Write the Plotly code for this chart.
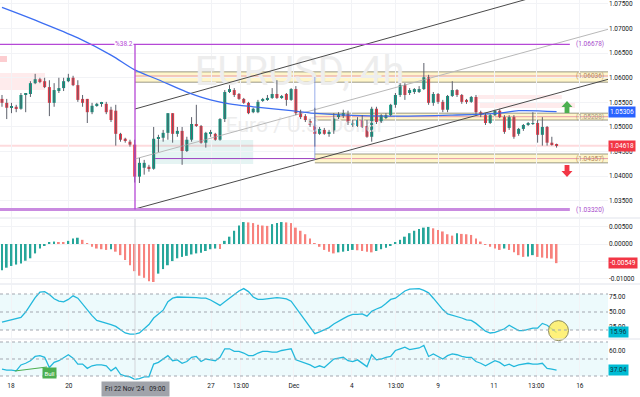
import plotly.graph_objects as go

# ---------------- data ----------------
opens = [1.0557,1.0549,1.0539,1.0541,1.0537,1.0565,1.0567,1.0589,1.0597,1.0593,
         1.0581,1.0549,1.0575,1.0579,1.0593,1.0600,1.0585,1.0557,1.0557,1.0530,
         1.0543,1.0547,1.0547,1.0535,1.0533,1.0486,1.0476,1.0470,1.0464,1.0399,
         1.0417,1.0419,1.0415,1.0476,1.0478,1.0488,1.0528,1.0486,1.0492,1.0451,
         1.0474,1.0506,1.0502,1.0468,1.0486,1.0486,1.0474,1.0516,1.0571,1.0575,
         1.0567,1.0557,1.0549,1.0530,1.0530,1.0553,1.0555,1.0559,1.0567,1.0559,
         1.0567,1.0555,1.0577,1.0530,1.0522,1.0512,1.0504,1.0486,1.0494,1.0486,
         1.0490,1.0520,1.0524,1.0526,1.0504,1.0502,1.0514,1.0502,1.0480,1.0537,
         1.0510,1.0520,1.0524,1.0545,1.0565,1.0585,1.0569,1.0571,1.0573,1.0577,
         1.0601,1.0549,1.0567,1.0551,1.0535,1.0563,1.0575,1.0565,1.0555,1.0551,
         1.0561,1.0530,1.0524,1.0508,1.0524,1.0533,1.0520,1.0498,1.0520,1.0486,
         1.0496,1.0504,1.0506,1.0508,1.0484,1.0500,1.0468,1.0464]
highs = [1.0565,1.0557,1.0549,1.0545,1.0569,1.0569,1.0593,1.0608,1.0600,1.0600,
         1.0595,1.0589,1.0600,1.0600,1.0608,1.0604,1.0595,1.0565,1.0557,1.0549,
         1.0549,1.0551,1.0551,1.0541,1.0545,1.0488,1.0478,1.0474,1.0474,1.0437,
         1.0433,1.0423,1.0500,1.0484,1.0494,1.0528,1.0528,1.0500,1.0500,1.0480,
         1.0520,1.0545,1.0504,1.0490,1.0494,1.0488,1.0518,1.0575,1.0585,1.0579,
         1.0569,1.0559,1.0551,1.0539,1.0555,1.0559,1.0565,1.0579,1.0595,1.0565,
         1.0569,1.0579,1.0583,1.0535,1.0526,1.0516,1.0539,1.0500,1.0498,1.0494,
         1.0528,1.0530,1.0535,1.0533,1.0514,1.0520,1.0524,1.0514,1.0541,1.0541,
         1.0526,1.0528,1.0547,1.0569,1.0589,1.0589,1.0579,1.0579,1.0583,1.0630,
         1.0606,1.0571,1.0569,1.0555,1.0565,1.0593,1.0577,1.0567,1.0557,1.0563,
         1.0565,1.0533,1.0528,1.0526,1.0535,1.0537,1.0524,1.0524,1.0524,1.0498,
         1.0506,1.0510,1.0530,1.0514,1.0520,1.0502,1.0480,1.0466]
lows = [1.0541,1.0516,1.0528,1.0530,1.0535,1.0530,1.0561,1.0587,1.0589,1.0579,
        1.0522,1.0541,1.0569,1.0573,1.0591,1.0583,1.0551,1.0541,1.0508,1.0526,
        1.0541,1.0541,1.0526,1.0510,1.0462,1.0470,1.0468,1.0460,1.0387,1.0386,
        1.0403,1.0409,1.0413,1.0449,1.0470,1.0474,1.0468,1.0480,1.0423,1.0449,
        1.0470,1.0500,1.0466,1.0458,1.0480,1.0472,1.0472,1.0510,1.0569,1.0561,
        1.0555,1.0547,1.0526,1.0528,1.0528,1.0551,1.0553,1.0557,1.0557,1.0557,
        1.0543,1.0553,1.0524,1.0516,1.0510,1.0500,1.0460,1.0484,1.0484,1.0480,
        1.0486,1.0516,1.0518,1.0504,1.0500,1.0500,1.0498,1.0478,1.0470,1.0506,
        1.0508,1.0516,1.0522,1.0539,1.0561,1.0555,1.0565,1.0567,1.0569,1.0575,
        1.0545,1.0543,1.0547,1.0530,1.0530,1.0561,1.0561,1.0547,1.0547,1.0549,
        1.0526,1.0520,1.0504,1.0506,1.0522,1.0518,1.0486,1.0494,1.0476,1.0482,
        1.0492,1.0502,1.0504,1.0468,1.0462,1.0462,1.0462,1.0458]
closes = [1.0549,1.0539,1.0541,1.0537,1.0565,1.0567,1.0589,1.0597,1.0593,1.0581,
          1.0549,1.0575,1.0579,1.0593,1.0600,1.0585,1.0555,1.0549,1.0530,1.0543,
          1.0547,1.0549,1.0530,1.0514,1.0486,1.0474,1.0472,1.0464,1.0399,1.0427,
          1.0427,1.0415,1.0476,1.0478,1.0488,1.0528,1.0486,1.0492,1.0451,1.0474,
          1.0506,1.0502,1.0468,1.0488,1.0488,1.0474,1.0516,1.0571,1.0577,1.0565,
          1.0557,1.0549,1.0528,1.0537,1.0551,1.0555,1.0559,1.0567,1.0559,1.0563,
          1.0555,1.0577,1.0528,1.0520,1.0514,1.0504,1.0486,1.0496,1.0486,1.0490,
          1.0518,1.0526,1.0528,1.0508,1.0508,1.0514,1.0500,1.0480,1.0537,1.0510,
          1.0524,1.0524,1.0545,1.0565,1.0585,1.0565,1.0575,1.0577,1.0577,1.0601,
          1.0549,1.0567,1.0551,1.0535,1.0563,1.0575,1.0565,1.0551,1.0551,1.0561,
          1.0530,1.0524,1.0508,1.0524,1.0533,1.0520,1.0490,1.0520,1.0480,1.0496,
          1.0504,1.0508,1.0508,1.0484,1.0500,1.0468,1.0464,1.0462]

macd_hist = [-0.0075,-0.0068,-0.0063,-0.0059,-0.0056,-0.0048,-0.0041,-0.0027,-0.0013,-0.0005,
             0.0004,0.0007,0.0005,0.0004,0.0009,0.0016,0.0018,0.0012,0.0002,-0.0008,
             -0.0013,-0.0015,-0.0017,-0.0015,-0.0022,-0.0032,-0.0046,-0.0061,-0.0078,-0.0091,
             -0.0097,-0.0107,-0.0109,-0.0085,-0.0072,-0.0061,-0.0049,-0.0041,-0.0037,-0.0034,
             -0.0030,-0.0027,-0.0025,-0.0020,-0.0015,-0.0013,-0.0014,0.0009,0.0021,0.0038,
             0.0053,0.0063,0.0062,0.0060,0.0055,0.0053,0.0052,0.0057,0.0060,0.0063,
             0.0062,0.0060,0.0047,0.0038,0.0028,0.0016,0.0002,-0.0008,-0.0017,-0.0022,
             -0.0027,-0.0024,-0.0022,-0.0020,-0.0017,-0.0018,-0.0020,-0.0022,-0.0024,-0.0020,
             -0.0015,-0.0011,-0.0005,0.0005,0.0012,0.0021,0.0031,0.0038,0.0043,0.0047,
             0.0049,0.0045,0.0040,0.0036,0.0028,0.0024,0.0031,0.0029,0.0028,0.0026,
             0.0016,0.0007,-0.0001,-0.0008,-0.0013,-0.0017,-0.0013,-0.0017,-0.0024,-0.0032,
             -0.0037,-0.0036,-0.0032,-0.0037,-0.0039,-0.0041,-0.0042,-0.0055]

stoch_rsi = [33,35,38,40,41,50,63,74,83,84,
             79,72,68,67,71,77,73,63,53,44,
             36,34,31,29,26,20,15,13,13,15,
             22,29,40,47,53,67,73,75,75,75,
             75,74,73,73,70,65,61,67,73,80,
             85,89,84,75,71,71,72,74,74,73,
             72,68,57,46,36,25,14,17,20,24,
             30,35,39,43,46,46,47,43,51,55,
             58,64,71,73,79,85,88,89,89,86,
             82,73,63,54,47,45,42,40,37,36,
             31,24,18,15,16,19,22,28,24,19,
             19,21,23,23,31,28,22,16]

rsi = [38,37,37,36,43,45,48,53,54,52,
       40,46,48,51,55,51,44,44,39,42,
       43,43,42,36,40,32,30,29,26,27,
       29,29,44,46,50,54,48,49,45,47,
       52,53,47,50,49,48,52,62,62,59,
       59,57,54,54,57,59,59,58,58,60,
       61,62,49,47,45,43,40,42,40,45,
       50,51,52,48,47,49,45,41,55,49,
       50,52,53,60,62,64,61,62,63,66,
       53,56,53,50,54,56,55,53,52,52,
       47,45,42,45,48,46,42,44,41,43,
       44,45,44,44,45,39,38,37]

ma_x = [0, 7, 16, 23, 28, 33, 39, 44, 48, 53, 61, 67, 82, 95, 105, 109, 117]
ma_y = [1.0743, 1.0717, 1.0681, 1.0646, 1.0616, 1.0596, 1.0571, 1.0555, 1.0547,
        1.0541, 1.0533, 1.0527, 1.0522, 1.0524, 1.0528, 1.0533, 1.0531]

x_tick_pos = [1.9, 14.1, 44.1, 50.4, 61.6, 73.8, 83.1, 92.0, 103.8, 112.7, 121.9]
x_tick_text = ["18", "20", "27", "13:00", "Dec", "4", "13:00", "9", "11", "13:00", "16"]
crosshair_x = 28.06
crosshair_text = "Fri 22 Nov '24   09:00"

price_ticks = [1.035, 1.040, 1.045, 1.050, 1.055, 1.060, 1.065, 1.070, 1.075]
macd_ticks = [0.005, 0.0, -0.005, -0.01]
stoch_ticks = [25, 50, 75]
rsi_ticks = [40, 60]

fib_high, fib_low, fib_label = 1.06678, 1.03320, "%38.2"
fib_x = 28.06
# zones: start index, low, high, mid level, label
zones = [(28.06, 1.0591, 1.0612, 1.06036, "(1.06036)"),
         (66.0, 1.0514, 1.0528, 1.05208, "(1.05208)"),
         (66.0, 1.0427, 1.0445, 1.04357, "(1.04357)")]
channel_x = [28.06, 127.85]
channel_lower = [1.03332, 1.05968]
channel_mid = [1.04349, 1.06985]
channel_upper = [1.05365, 1.08060]

last_price = 1.04618
ma_last = 1.05306
macd_last = -0.00549
stoch_last = 15.96
rsi_last = 37.04

# ---------------- layout geometry ----------------
W, H = 640, 397
ML, MR, MT, MB = 0, 32, 0, 17
PW, PH = W - ML - MR, H - MT - MB
XR = [-0.42, 127.85]

def dom(top, bot):
    return [(PH - bot) / PH, (PH - top) / PH]

def px_x(px):
    return px / PW

def px_y(py):
    return (PH - py) / PH

FONT = "Roboto"
GREEN, RED = "#089981", "#f23645"
n = len(closes)
idx = list(range(n))

fig = go.Figure()

# watermark (behind candles)
fig.add_trace(go.Scatter(x=[62.8, 63.9], y=[1.0606, 1.0500], mode="text",
                         text=["EURUSD, 4h", "Euro / U.S. Dollar"],
                         textfont=dict(size=[40, 21], color="#ededed", family=FONT),
                         hoverinfo="skip", showlegend=False, xaxis="x", yaxis="y"))

# channel lines
fig.add_trace(go.Scatter(x=channel_x, y=channel_lower, mode="lines",
                         line=dict(color="#4a4a4a", width=1), hoverinfo="skip", showlegend=False))
fig.add_trace(go.Scatter(x=channel_x, y=channel_upper, mode="lines",
                         line=dict(color="#4a4a4a", width=1), hoverinfo="skip", showlegend=False))
fig.add_trace(go.Scatter(x=channel_x, y=channel_mid, mode="lines",
                         line=dict(color="#b8b8b8", width=1), hoverinfo="skip", showlegend=False))

# moving average
fig.add_trace(go.Scatter(x=ma_x, y=ma_y, mode="lines", line=dict(color="#3d6ef2", width=1.3, shape="spline"),
                         hoverinfo="skip", showlegend=False))

# candle wicks
wx, wy = [], []
for i, (h, l) in enumerate(zip(highs, lows)):
    wx += [i, i, None]
    wy += [h, l, None]
fig.add_trace(go.Scatter(x=wx, y=wy, mode="lines", line=dict(color="#5d606b", width=1),
                         hoverinfo="skip", showlegend=False))
# candle bodies
body_base = [min(o, c) for o, c in zip(opens, closes)]
body_h = [max(abs(c - o), 0.00006) for o, c in zip(opens, closes)]
body_col = [GREEN if c >= o else RED for o, c in zip(opens, closes)]
fig.add_trace(go.Bar(x=idx, y=body_h, base=body_base, width=0.64,
                     marker=dict(color=body_col, line=dict(width=0)),
                     hoverinfo="skip", showlegend=False, xaxis="x", yaxis="y"))

# MACD histogram
macd_col = ["#26a69a" if (i == 0 or v >= macd_hist[i - 1]) else "#f7827d" for i, v in enumerate(macd_hist)]
fig.add_trace(go.Bar(x=idx, y=macd_hist, width=0.38, marker=dict(color=macd_col, line=dict(width=0)),
                     hoverinfo="skip", showlegend=False, xaxis="x2", yaxis="y2"))

# Stoch RSI line
fig.add_trace(go.Scatter(x=idx, y=stoch_rsi, mode="lines", line=dict(color="#22b8dc", width=1.3),
                         hoverinfo="skip", showlegend=False, xaxis="x3", yaxis="y3"))
fig.add_trace(go.Scatter(x=[n - 0.6], y=[19], mode="markers",
                         marker=dict(size=20, color="rgba(255,238,90,0.8)", line=dict(color="#8c8a5c", width=1)),
                         cliponaxis=False, hoverinfo="skip", showlegend=False, xaxis="x3", yaxis="y3"))

# RSI line
fig.add_trace(go.Scatter(x=idx, y=rsi, mode="lines", line=dict(color="#22b8dc", width=1.3),
                         hoverinfo="skip", showlegend=False, xaxis="x4", yaxis="y4"))
fig.add_trace(go.Scatter(x=[2.7, 9.5], y=[35.9, 40.6], mode="lines", line=dict(color="#4caf50", width=1.2),
                         hoverinfo="skip", showlegend=False, xaxis="x4", yaxis="y4"))

# ---------------- shapes ----------------
shapes = []

def rect(x0, x1, y0, y1, fill, xref="x", yref="y", layer="below"):
    shapes.append(dict(type="rect", xref=xref, yref=yref, x0=x0, x1=x1, y0=y0, y1=y1,
                       fillcolor=fill, line=dict(width=0), layer=layer))

def line(x0, x1, y0, y1, color, width=1, xref="x", yref="y", dash="solid", layer="above"):
    shapes.append(dict(type="line", xref=xref, yref=yref, x0=x0, x1=x1, y0=y0, y1=y1,
                       line=dict(color=color, width=width, dash=dash), layer=layer))

# pink supply areas
rect(XR[0], 9.07, 1.05751, 1.06097, "rgba(242,54,69,0.10)")
rect(XR[0], 1.05, 1.06320, 1.06443, "rgba(242,54,69,0.25)")
rect(100.4, 118.1, 1.05568, 1.05650, "rgba(242,54,69,0.10)")
rect(100.8, 120.9, 1.05385, 1.05487, "rgba(242,54,69,0.10)")
# light green demand box
rect(31.9, 53.0, 1.04247, 1.04735, "rgba(38,166,154,0.12)")
# current price line
line(XR[0], XR[1], last_price, last_price, "rgba(242,54,69,0.18)", width=2, layer="below")

# yellow zones
for x0, lo, hi, mid, lab in zones:
    rect(x0, XR[1], lo, hi, "rgba(255,236,140,0.45)")
    line(x0, XR[1], lo, lo, "rgba(90,90,70,0.6)", 1, layer="below")
    line(x0, XR[1], hi, hi, "rgba(90,90,70,0.6)", 1, layer="below")
    line(x0, XR[1], mid, mid, "rgba(214,80,140,0.55)", 1, layer="below")

# fib lines
line(XR[0], 119.8, fib_high, fib_high, "#b548d6", 1.3)
line(XR[0], 119.8, fib_low, fib_low, "#c98be0", 3)
line(fib_x, fib_x, fib_low, fib_high, "#b548d6", 1.3)
line(32.3, 66.0, 1.04357, 1.04357, "#9c3fc0", 1)
line(66.0, 66.0, 1.04328, 1.06016, "rgba(110,140,225,0.7)", 1)

# crosshair line through lower panes
line(crosshair_x, crosshair_x, 0, px_y(219), "#d3d5da", 1, xref="x", yref="paper")

# pane separators
for py in (218, 284, 339):
    line(0, 1.0526, px_y(py), px_y(py), "#e0e3eb", 1, xref="paper", yref="paper")

# stoch / rsi bands and dashed levels
rect(0, 1, 20, 80, "rgba(0,188,212,0.07)", xref="paper", yref="y3")
for v in (80, 50, 20):
    line(0, 1, v, v, "#a3a7b0", 1, xref="paper", yref="y3", dash="3px,3px")
rect(0, 1, 30, 70, "rgba(0,188,212,0.07)", xref="paper", yref="y4")
for v in (70, 50, 30):
    line(0, 1, v, v, "#a3a7b0", 1, xref="paper", yref="y4", dash="3px,3px")

# arrows (paper coordinates)
def arrow_path(cx, top, bot, w, up=True):
    hw, sw = w / 2, w * 0.22
    hh = (bot - top) * 0.5
    if up:
        pts = [(cx, top), (cx + hw, top + hh), (cx + sw, top + hh), (cx + sw, bot),
               (cx - sw, bot), (cx - sw, top + hh), (cx - hw, top + hh)]
    else:
        pts = [(cx, bot), (cx + hw, bot - hh), (cx + sw, bot - hh), (cx + sw, top),
               (cx - sw, top), (cx - sw, bot - hh), (cx - hw, bot - hh)]
    return "M " + " L ".join(f"{px_x(x):.5f},{px_y(y):.5f}" for x, y in pts) + " Z"

shapes.append(dict(type="path", xref="paper", yref="paper", path=arrow_path(567, 101, 113, 11, True),
                   fillcolor="#4caf50", line=dict(width=0)))
shapes.append(dict(type="path", xref="paper", yref="paper", path=arrow_path(567, 165, 177, 11, False),
                   fillcolor="#f23645", line=dict(width=0)))

# ---------------- annotations ----------------
ann = []

def val_box(y, yref, text, bg, fc="white"):
    ann.append(dict(x=1, xref="paper", y=y, yref=yref, xanchor="left", yanchor="middle",
                    text=text, showarrow=False, bgcolor=bg, borderpad=1,
                    font=dict(size=6.5, color=fc, family=FONT)))

val_box(ma_last, "y", f"{ma_last:.5f}", "#2962ff")
val_box(last_price, "y", f"{last_price:.5f}", "#f23645")
val_box(macd_last, "y2", f"{macd_last:.5f}", "#f23645")
val_box(stoch_last, "y3", f"{stoch_last:.2f}", "#00bcd4", "#0d3440")
val_box(rsi_last, "y4", f"{rsi_last:.2f}", "#00bcd4", "#0d3440")

def level_label(y, text, color):
    ann.append(dict(x=px_x(606), xref="paper", y=y, yref="y", xanchor="right", yanchor="middle",
                    text=text, showarrow=False, font=dict(size=6.5, color=color, family=FONT)))

level_label(fib_high, "(1.06678)", "#a84ccc")
level_label(fib_low, "(1.03320)", "#a84ccc")
for x0, lo, hi, mid, lab in zones:
    level_label(mid, lab, "#a89a80" if "052" in lab else "#b58c62")

ann.append(dict(x=fib_x - 0.3, xref="x", y=fib_high, yref="y", xanchor="right", yanchor="middle",
                text=fib_label, showarrow=False, bgcolor="white", borderpad=0,
                font=dict(size=6.5, color="#b548d6", family=FONT)))
ann.append(dict(x=10.0, xref="x4", y=34.1, yref="y4", xanchor="center", yanchor="middle",
                text="Bull", showarrow=False, bgcolor="#4caf50", borderpad=1.5,
                font=dict(size=6, color="white", family=FONT)))
ann.append(dict(x=crosshair_x, xref="x4", y=px_y(389), yref="paper", xanchor="center", yanchor="middle",
                text=crosshair_text, showarrow=False, bgcolor="#a0a3aa", borderpad=3,
                font=dict(size=6.5, color="#1f2329", family=FONT)))

# ---------------- axes ----------------
grid = "#f2f3f6"
xcommon = dict(range=XR, tickvals=x_tick_pos, ticktext=x_tick_text, showgrid=True, gridcolor=grid,
               zeroline=False, showline=False, ticks="", fixedrange=True)
fig.update_layout(
    width=W, height=H, margin=dict(l=ML, r=MR, t=MT, b=MB),
    paper_bgcolor="white", plot_bgcolor="white", showlegend=False, barmode="overlay",
    font=dict(family=FONT, size=6.5, color="#131722"),
    xaxis=dict(**xcommon, anchor="y", showticklabels=False),
    xaxis2=dict(**xcommon, anchor="y2", matches="x", showticklabels=False),
    xaxis3=dict(**xcommon, anchor="y3", matches="x", showticklabels=False),
    xaxis4=dict(**xcommon, anchor="y4", matches="x", showticklabels=True,
                tickfont=dict(size=6.5, color="#131722")),
    yaxis=dict(domain=dom(0, 217), range=[1.03169, 1.07581], side="right", anchor="x",
               tickvals=price_ticks, ticktext=[f"{v:.5f}" for v in price_ticks],
               showgrid=True, gridcolor=grid, zeroline=False, ticks="", tickfont=dict(size=6.5)),
    yaxis2=dict(domain=dom(219, 283), range=[-0.011193, 0.007175], side="right", anchor="x2",
                tickvals=macd_ticks, ticktext=[f"{v:.5f}" for v in macd_ticks],
                showgrid=True, gridcolor=grid, zeroline=False, ticks="", tickfont=dict(size=6.5)),
    yaxis3=dict(domain=dom(285, 338), range=[6.67, 95], side="right", anchor="x3",
                tickvals=stoch_ticks, ticktext=[f"{v:.2f}" for v in stoch_ticks],
                showgrid=False, zeroline=False, ticks="", tickfont=dict(size=6.5)),
    yaxis4=dict(domain=dom(340, 380), range=[25.29, 72.35], side="right", anchor="x4",
                tickvals=rsi_ticks, ticktext=[f"{v:.2f}" for v in rsi_ticks],
                showgrid=False, zeroline=False, ticks="", tickfont=dict(size=6.5)),
    shapes=shapes, annotations=ann,
)

fig.write_html("out.html", config={"displayModeBar": False},
               post_script="document.body.style.margin='0';document.body.style.overflow='hidden';")
